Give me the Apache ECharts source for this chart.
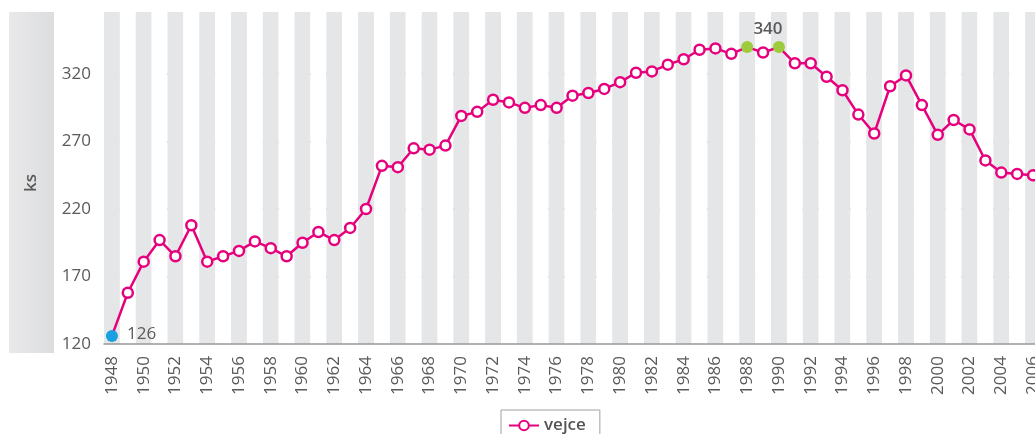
<!DOCTYPE html>
<html>
<head>
<meta charset="utf-8">
<script src="https://cdn.jsdelivr.net/npm/echarts@6/dist/echarts.min.js"></script>
<style>
html,body{margin:0;padding:0;background:#fff;}
#chart{width:1035px;height:434px;}
</style>
</head>
<body>
<div id="chart"></div>
<script>
// ---- data ----
const years = [];
for (let y = 1948; y <= 2006; y++) years.push(String(y));
const vejce = [
  126, 158, 181, 197, 185, 208, 181, 185, 189, 196,
  191, 185, 195, 203, 197, 206, 220, 252, 251, 265,
  264, 267, 289, 292, 301, 299, 295, 297, 295, 304,
  306, 309, 314, 321, 322, 327, 331, 338, 339, 335,
  340, 336, 340, 328, 328, 318, 308, 290, 276, 311,
  319, 297, 275, 286, 279, 256, 247, 246, 245
];
const seriesName = 'vejce';
const yAxisTitle = 'ks';
const yTicks = [120, 170, 220, 270, 320];

const FONT = '"Open Sans", "DejaVu Sans", sans-serif';
const PINK = '#e6007e';
const TXT = '#5a5a5a';
const minVal = Math.min(...vejce);
const maxVal = Math.max(...vejce);
const minIdx = vejce.indexOf(minVal);
const maxIdxLast = vejce.lastIndexOf(maxVal);

const seriesData = vejce.map((v, i) => {
  if (v === minVal) {
    return {
      value: v, symbolSize: 12,
      itemStyle: { color: '#1a9fe0', borderWidth: 0 },
      label: i === minIdx ? { show: true, position: 'right', distance: 9, offset: [0, -2],
        color: TXT, fontSize: 17, fontFamily: FONT, formatter: '{c}' } : { show: false }
    };
  }
  if (v === maxVal) {
    return {
      value: v, symbolSize: 12,
      itemStyle: { color: '#9dcb3c', borderWidth: 0 },
      label: i === maxIdxLast ? { show: true, position: 'top', distance: 3, offset: [-11, 0],
        color: TXT, fontSize: 17, fontWeight: 600, fontFamily: FONT, formatter: '{c}' } : { show: false }
    };
  }
  return v;
});

const chart = echarts.init(document.getElementById('chart'), null, { renderer: 'canvas' });
chart.setOption({
  animation: false,
  backgroundColor: '#fff',
  textStyle: { fontFamily: FONT },
  graphic: [
    {
      type: 'rect', z: -1,
      shape: { x: 9, y: 12, width: 45, height: 341 },
      style: { fill: new echarts.graphic.LinearGradient(0, 0, 1, 0, [
        { offset: 0, color: '#e9e9ea' }, { offset: 1, color: '#dcdddf' }]) }
    }
  ],
  grid: { left: 104, width: 937, top: 12, bottom: 90, outerBoundsMode: 'none', containLabel: false },
  legend: {
    left: 501, top: 410,
    padding: [7, 14, 9, 7],
    borderColor: '#a0a0a0', borderWidth: 1,
    backgroundColor: '#fff',
    itemWidth: 30, itemHeight: 12,
    textStyle: { color: '#555', fontSize: 17, fontWeight: 600, fontFamily: FONT },
    data: [seriesName]
  },
  xAxis: {
    type: 'category',
    data: years,
    boundaryGap: true,
    axisLine: { show: true, lineStyle: { color: '#999', width: 1.5 } },
    axisTick: { show: false },
    axisLabel: { interval: 1, rotate: 90, margin: 12, color: TXT, fontSize: 17, fontFamily: FONT },
    splitLine: { show: false },
    splitArea: { show: true, interval: 0, areaStyle: { color: ['#e5e6e7', '#ffffff'] } }
  },
  yAxis: {
    type: 'value',
    min: yTicks[0], max: 366, interval: yTicks[1] - yTicks[0],
    name: yAxisTitle,
    nameLocation: 'middle',
    nameGap: 64,
    nameRotate: 90,
    nameTextStyle: { color: TXT, fontSize: 17, fontWeight: 600, fontFamily: FONT, padding: [0, 10, 0, 0] },
    axisLine: { show: false },
    axisTick: { show: false },
    axisLabel: { showMaxLabel: false, margin: 13, color: TXT, fontSize: 17, fontFamily: FONT },
    splitLine: { show: true, showMinLine: false, showMaxLine: false,
      lineStyle: { color: '#a3a3a3', width: 1.5, type: [7, 5] } }
  },
  series: [{
    name: seriesName,
    type: 'line',
    data: seriesData,
    symbol: 'circle',
    symbolSize: 10,
    showAllSymbol: true,
    lineStyle: { color: PINK, width: 2.5 },
    itemStyle: { color: '#fff', borderColor: PINK, borderWidth: 2.5 },
    emphasis: { disabled: true },
    z: 3
  }]
});
</script>
</body>
</html>
